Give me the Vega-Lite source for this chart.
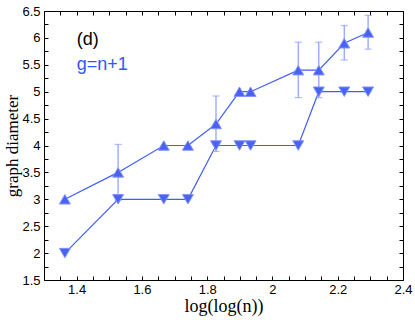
{
  "$schema": "https://vega.github.io/schema/vega-lite/v6.json",
  "width": 359,
  "height": 269,
  "autosize": {"type": "none"},
  "padding": {"left": 44, "top": 11, "right": 12, "bottom": 40},
  "background": "white",
  "config": {
    "view": {"stroke": "black", "strokeWidth": 1},
    "axis": {
      "domain": false,
      "grid": false,
      "ticks": true,
      "labelFont": "Liberation Sans",
      "labelFontSize": 13,
      "labelColor": "black",
      "tickColor": "black",
      "tickWidth": 1,
      "titleFont": "Liberation Serif",
      "titleFontWeight": "normal",
      "titleColor": "black"
    }
  },
  "datasets": {
    "pts": [
      {"x": 1.364, "series": "max", "y": 3.0},
      {"x": 1.527, "series": "max", "y": 3.5},
      {"x": 1.667, "series": "max", "y": 4.0},
      {"x": 1.741, "series": "max", "y": 4.0},
      {"x": 1.827, "series": "max", "y": 4.4},
      {"x": 1.899, "series": "max", "y": 5.0},
      {"x": 1.933, "series": "max", "y": 5.0},
      {"x": 2.079, "series": "max", "y": 5.4},
      {"x": 2.142, "series": "max", "y": 5.4},
      {"x": 2.220, "series": "max", "y": 5.9},
      {"x": 2.293, "series": "max", "y": 6.1},
      {"x": 1.364, "series": "min", "y": 2.0},
      {"x": 1.527, "series": "min", "y": 3.0},
      {"x": 1.667, "series": "min", "y": 3.0},
      {"x": 1.741, "series": "min", "y": 3.0},
      {"x": 1.827, "series": "min", "y": 4.0},
      {"x": 1.899, "series": "min", "y": 4.0},
      {"x": 1.933, "series": "min", "y": 4.0},
      {"x": 2.079, "series": "min", "y": 4.0},
      {"x": 2.142, "series": "min", "y": 5.0},
      {"x": 2.220, "series": "min", "y": 5.0},
      {"x": 2.293, "series": "min", "y": 5.0}
    ],
    "err": [
      {"x": 1.527, "lo": 2.98, "hi": 4.02},
      {"x": 1.827, "lo": 3.89, "hi": 4.92},
      {"x": 2.079, "lo": 4.89, "hi": 5.92},
      {"x": 2.142, "lo": 4.89, "hi": 5.92},
      {"x": 2.220, "lo": 5.59, "hi": 6.23},
      {"x": 2.293, "lo": 5.79, "hi": 6.42}
    ],
    "notes": [
      {"x": 1.4, "y": 5.97, "label": "(d)", "kind": "panel"},
      {"x": 1.4, "y": 5.5, "label": "g=n+1", "kind": "legend"}
    ]
  },
  "resolve": {"axis": {"x": "independent", "y": "independent"}},
  "layer": [
    {
      "data": {"name": "pts"},
      "mark": {"type": "line", "color": "#3f5cff", "strokeWidth": 1.2},
      "encoding": {
        "x": {
          "field": "x", "type": "quantitative",
          "scale": {"domain": [1.3, 2.4], "nice": false, "zero": false},
          "axis": {
            "orient": "bottom",
            "title": "log(log(n))",
            "titleFontSize": 18,
            "titlePadding": 1,
            "values": [1.3, 1.35, 1.4, 1.45, 1.5, 1.55, 1.6, 1.65, 1.7, 1.75, 1.8, 1.85, 1.9, 1.95, 2.0, 2.05, 2.1, 2.15, 2.2, 2.25, 2.3, 2.35, 2.4],
            "labelExpr": "indexof(['1.4','1.6','1.8','2','2.2','2.4'], format(datum.value, '~g')) >= 0 ? format(datum.value, '~g') : ''",
            "tickSize": -4,
            "labelPadding": 7,
            "labelFlush": false
          }
        },
        "y": {
          "field": "y", "type": "quantitative",
          "scale": {"domain": [1.5, 6.5], "nice": false, "zero": false},
          "axis": {
            "orient": "left",
            "title": "graph diameter",
            "titleFontSize": 17,
            "titlePadding": 0,
            "values": [1.5, 1.75, 2.0, 2.25, 2.5, 2.75, 3.0, 3.25, 3.5, 3.75, 4.0, 4.25, 4.5, 4.75, 5.0, 5.25, 5.5, 5.75, 6.0, 6.25, 6.5],
            "labelExpr": "(datum.value * 2) % 1 == 0 ? format(datum.value, '~g') : ''",
            "tickSize": -4,
            "labelPadding": 8,
            "labelFlush": false
          }
        },
        "detail": {"field": "series"}
      }
    },
    {
      "data": {"name": "err"},
      "mark": {"type": "rule", "color": "#8c9cff", "strokeWidth": 1.2},
      "encoding": {
        "x": {"field": "x", "type": "quantitative", "axis": null},
        "y": {"field": "lo", "type": "quantitative", "axis": null},
        "y2": {"field": "hi"}
      }
    },
    {
      "data": {"name": "err"},
      "mark": {"type": "tick", "orient": "horizontal", "color": "#8c9cff", "size": 7, "thickness": 1.2},
      "encoding": {
        "x": {"field": "x", "type": "quantitative", "axis": null},
        "y": {"field": "lo", "type": "quantitative", "axis": null}
      }
    },
    {
      "data": {"name": "err"},
      "mark": {"type": "tick", "orient": "horizontal", "color": "#8c9cff", "size": 7, "thickness": 1.2},
      "encoding": {
        "x": {"field": "x", "type": "quantitative", "axis": null},
        "y": {"field": "hi", "type": "quantitative", "axis": null}
      }
    },
    {
      "data": {"name": "pts"},
      "mark": {"type": "point", "filled": true, "size": 120, "fill": "#4a62f2", "stroke": "#8394ff", "strokeWidth": 1, "fillOpacity": 1, "opacity": 1},
      "encoding": {
        "x": {
          "field": "x", "type": "quantitative",
          "axis": {
            "orient": "top", "title": null, "labels": false,
            "values": [1.3, 1.35, 1.4, 1.45, 1.5, 1.55, 1.6, 1.65, 1.7, 1.75, 1.8, 1.85, 1.9, 1.95, 2.0, 2.05, 2.1, 2.15, 2.2, 2.25, 2.3, 2.35, 2.4],
            "tickSize": -4
          }
        },
        "y": {
          "field": "y", "type": "quantitative",
          "axis": {
            "orient": "right", "title": null, "labels": false,
            "values": [1.5, 1.75, 2.0, 2.25, 2.5, 2.75, 3.0, 3.25, 3.5, 3.75, 4.0, 4.25, 4.5, 4.75, 5.0, 5.25, 5.5, 5.75, 6.0, 6.25, 6.5],
            "tickSize": -4
          }
        },
        "shape": {
          "field": "series", "type": "nominal",
          "scale": {"domain": ["max", "min"], "range": ["triangle-up", "triangle-down"]},
          "legend": null
        }
      }
    },
    {
      "data": {"name": "notes"},
      "mark": {"type": "text", "align": "left", "baseline": "middle", "font": "Liberation Sans", "fontSize": 18},
      "encoding": {
        "x": {"field": "x", "type": "quantitative", "axis": null},
        "y": {"field": "y", "type": "quantitative", "axis": null},
        "text": {"field": "label"},
        "color": {
          "field": "kind", "type": "nominal",
          "scale": {"domain": ["panel", "legend"], "range": ["black", "#3355ff"]},
          "legend": null
        }
      }
    }
  ]
}
